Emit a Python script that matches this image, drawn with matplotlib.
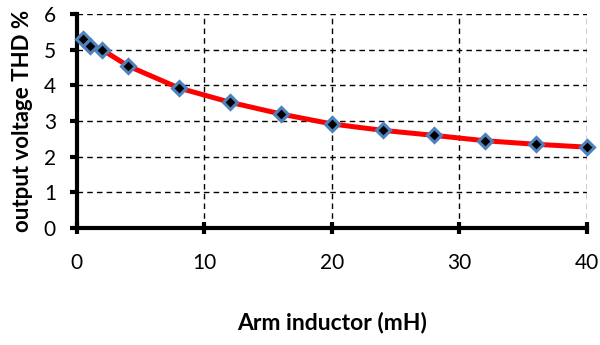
import matplotlib
matplotlib.use("Agg")
import matplotlib.pyplot as plt

# data
inductor_mh = [0.5, 1, 2, 4, 8, 12, 16, 20, 24, 28, 32, 36, 40]
thd_pct = [5.3, 5.1, 5.0, 4.55, 3.93, 3.53, 3.2, 2.92, 2.74, 2.6, 2.45, 2.35, 2.27]
xticks = [0, 10, 20, 30, 40]
yticks = [0, 1, 2, 3, 4, 5, 6]

plt.rcParams.update({"font.family": ["Lato", "DejaVu Sans"], "font.size": 15})

fig = plt.figure(figsize=(6.0, 3.45), dpi=100)
ax = fig.add_axes([0.128, 0.339, 0.85, 0.62])

ax.plot(inductor_mh, thd_pct, color="#ff0000", lw=3.6, zorder=3, solid_capstyle="round")
ax.plot(inductor_mh, thd_pct, ls="none", marker="D", ms=7, mfc="black",
        mec="#4f81bd", mew=2.2, zorder=4, clip_on=False)

ax.set_xlim(0, 40); ax.set_ylim(0, 6)
ax.set_xticks(xticks); ax.set_yticks(yticks)
ax.grid(True, color="black", ls=(0, (4, 3)), lw=1.0)
for sp in ("top", "right"):
    ax.spines[sp].set_visible(False)
for sp in ("left", "bottom"):
    ax.spines[sp].set_linewidth(3)
ax.tick_params(axis="y", direction="out", length=5, width=3, pad=10, labelsize=15)
ax.tick_params(axis="x", direction="inout", length=8, width=3, pad=14, labelsize=15)

ax.set_xlabel("Arm inductor (mH)", fontweight="bold", fontsize=16.5, labelpad=28)
ax.set_ylabel("output voltage THD %", fontweight="bold", fontsize=16, labelpad=8)

fig.savefig("out.png", dpi=100)
